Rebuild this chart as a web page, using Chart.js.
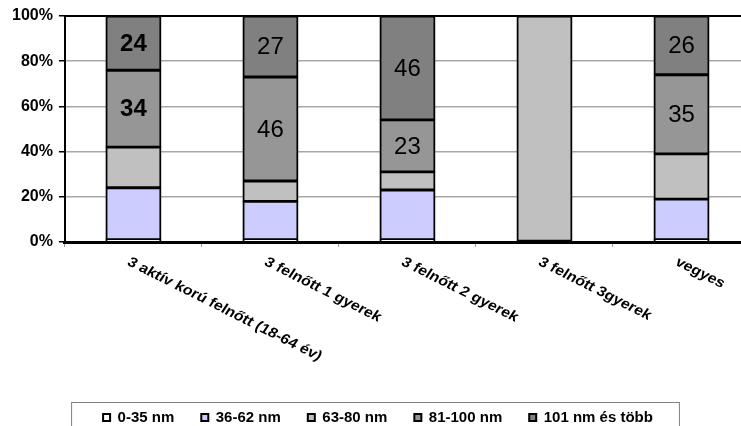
<!DOCTYPE html>
<html>
<head>
<meta charset="utf-8">
<script src="https://cdn.jsdelivr.net/npm/chart.js@4.4.1/dist/chart.umd.min.js"></script>
<style>
  html, body { margin: 0; padding: 0; background: #fff; overflow: hidden; }
  #wrap { width: 750px; height: 426px; position: relative; }
</style>
</head>
<body>
<div id="wrap"><canvas id="barChart1"></canvas></div>
<script>
// categories and series (percent of households)
const categories = ['3 aktív korú felnőtt (18-64 év)', '3 felnőtt 1 gyerek', '3 felnőtt 2 gyerek', '3 felnőtt 3gyerek', 'vegyes'];
const seriesNames = ['0-35 nm', '36-62 nm', '63-80 nm', '81-100 nm', '101 nm és több'];
const nm0_35 = [1, 1, 1, 0, 1];
const nm36_62 = [23, 17, 22, 0, 18];
const nm63_80 = [18, 9, 8, 100, 20];
const nm81_100 = [34, 46, 23, 0, 35];
const nm101 = [24, 27, 46, 0, 26];
const yTicks = [0, 20, 40, 60, 80, 100];

const colors = ['#ffffff', '#ccccff', '#c0c0c0', '#969696', '#808080'];
const labeledSeries = [3, 4];
const FONT = '"Liberation Sans", Arial, sans-serif';

const ctx = document.getElementById('barChart1').getContext('2d');

// value labels inside the two top segments
const barLabels = {
    id: 'barLabels',
    afterDatasetsDraw(chart) {
        const c = chart.ctx;
        c.save();
        c.fillStyle = '#000';
        c.textAlign = 'center';
        c.textBaseline = 'middle';
        labeledSeries.forEach(di => {
            const meta = chart.getDatasetMeta(di);
            meta.data.forEach((bar, i) => {
                const v = chart.data.datasets[di].data[i];
                if (!v) return;
                c.font = (i === 0 ? 'bold ' : '') + '24px ' + FONT;
                c.fillText(String(v), bar.x, (bar.y + bar.base) / 2 + 1);
            });
        });
        c.restore();
    }
};

// slanted category labels + plot top border + legend frame
const extras = {
    id: 'extras',
    afterDraw(chart) {
        const c = chart.ctx;
        const area = chart.chartArea;
        const xs = chart.scales.x;
        c.save();
        c.font = 'bold 14px ' + FONT;
        c.fillStyle = '#000';
        c.textAlign = 'left';
        c.textBaseline = 'top';
        categories.forEach((label, i) => {
            c.save();
            c.translate(xs.getPixelForTick(i) - 1, area.bottom + 13);
            c.scale(1.15, 1);
            c.rotate(30 * Math.PI / 180);
            c.fillText(label, 0, 0);
            c.restore();
        });

        c.strokeStyle = '#000';
        c.lineWidth = 2;
        c.beginPath();
        c.moveTo(area.left, area.top);
        c.lineTo(area.right, area.top);
        c.stroke();

        const boxes = chart.legend.legendHitBoxes;
        if (boxes && boxes.length) {
            const left = Math.min(...boxes.map(b => b.left)) - 32;
            const right = Math.max(...boxes.map(b => b.left + b.width)) + 26;
            const top = boxes[0].top - 8;
            c.strokeStyle = '#808080';
            c.lineWidth = 1;
            c.strokeRect(left + 0.5, top + 0.5, right - left, 80);
        }
        c.restore();
    }
};

new Chart(ctx, {
    type: 'bar',
    data: {
        labels: categories,
        datasets: [nm0_35, nm36_62, nm63_80, nm81_100, nm101].map((d, i) => ({
            label: seriesNames[i],
            data: d,
            backgroundColor: colors[i],
            borderColor: '#000',
            borderWidth: 2,
            borderSkipped: false,
            inflateAmount: 0.6,
            categoryPercentage: 1,
            barPercentage: 0.4
        }))
    },
    options: {
        responsive: true,
        maintainAspectRatio: false,
        animation: false,
        layout: { padding: { left: 6, top: 16, right: 0, bottom: -9 } },
        scales: {
            x: {
                stacked: true,
                ticks: { display: false },
                grid: { drawOnChartArea: false, color: '#999', tickLength: 5 },
                border: { color: '#000', width: 3 },
                afterFit(scale) { scale.height = 141; }
            },
            y: {
                stacked: true,
                min: 0,
                max: 100,
                afterBuildTicks(scale) { scale.ticks = yTicks.map(v => ({ value: v })); },
                ticks: {
                    color: '#000',
                    padding: 6,
                    font: { family: FONT, size: 16, weight: 'bold' },
                    callback: v => v + '%'
                },
                grid: { color: '#a8a8a8', lineWidth: 1.5, tickColor: '#000', tickLength: 6 },
                border: { color: '#000', width: 2 }
            }
        },
        plugins: {
            legend: {
                position: 'bottom',
                labels: {
                    boxWidth: 7,
                    boxHeight: 7,
                    padding: 27,
                    color: '#000',
                    font: { family: FONT, size: 15, weight: 'bold' }
                }
            },
            tooltip: { enabled: false }
        }
    },
    plugins: [barLabels, extras]
});
</script>
</body>
</html>
